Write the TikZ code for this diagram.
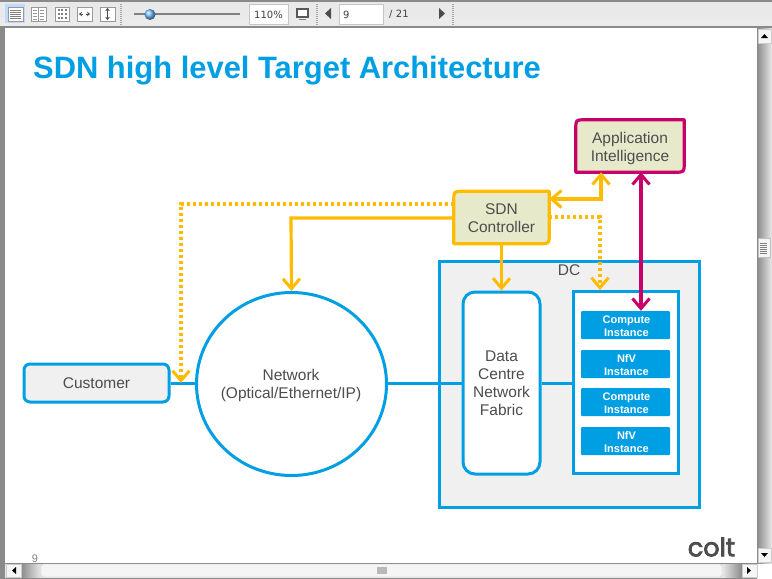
\documentclass[tikz,border=0pt]{standalone}
\usepackage{fontspec}
\setmainfont{Liberation Sans}
\newfontfamily\uifont{DejaVu Sans}
\newfontfamily\logofont[FakeBold=3]{Poppins}
\usetikzlibrary{arrows.meta,backgrounds,calc,shapes.geometric}
\definecolor{coltblue}{HTML}{009FE3}
\definecolor{coltyellow}{HTML}{FFBB00}
\definecolor{coltmag}{HTML}{C8006A}
\definecolor{coltgreen}{HTML}{E6EACB}
\definecolor{coltgrey}{HTML}{F0F0F0}
\definecolor{txt}{HTML}{4D4D4D}
\definecolor{chrome}{HTML}{E9E9E9}
\definecolor{chromedark}{HTML}{8A8A8A}
\newcommand{\cutbox}[2]{%
  \begin{scope}[on background layer]
  \draw[#2,fill=coltgreen,line join=round]
    ($(#1.north west)+(9,0)$) -- (#1.north east) -- ($(#1.south east)+(0,-9)$)
    .. controls (#1.south east) .. ($(#1.south east)+(-9,0)$)
    -- (#1.south west) -- ($(#1.north west)+(0,9)$)
    .. controls (#1.north west) .. cycle;
  \end{scope}}
\tikzset{
  x=1pt,y=-1pt,
  lbl/.style={font=\fontsize{15.5}{18}\selectfont,text=txt,align=center,inner sep=0pt},
  bluebox/.style={draw=coltblue,line width=3pt},
  bluelink/.style={draw=coltblue,line width=3pt},
  inst/.style={fill=coltblue,rounded corners=1pt,inner sep=0pt,minimum width=89pt,minimum height=28pt},
  instlbl/.style={align=center,inner sep=0pt,text=white,font=\fontsize{11}{12.5}\selectfont\bfseries},
  barb/.tip={Straight Barb[length=10pt,width=17pt,line width=3pt]},
  ylink/.style={draw=coltyellow,line width=3.2pt},
  ydot/.style={draw=coltyellow,line width=3.2pt,dash pattern=on 3pt off 3pt},
  mlink/.style={draw=coltmag,line width=3.2pt},
  icon/.style={draw=gray!80,fill=white,line width=.9pt},
  sep/.style={draw=gray!70,line width=1.2pt,dash pattern=on 1pt off 1pt},
  field/.style={draw=gray!45,fill=white,line width=.8pt},
  uitxt/.style={font=\uifont\fontsize{10}{11}\selectfont,text=black!75,inner sep=0pt},
}
\begin{document}
\begin{tikzpicture}
\useasboundingbox (0,0) rectangle (772,579);
% ---- page
\begin{scope}[on background layer]
\fill[white] (0,0) rectangle (772,579);
\end{scope}
% ---- title and footer
\node[anchor=west,inner sep=0pt,text=coltblue,font=\fontsize{30.9}{36}\selectfont\bfseries] (title) at (33,71) {SDN high level Target Architecture};
\node[inner sep=0pt,text=gray,font=\fontsize{11}{12}\selectfont] (pageno) at (35,559) {9};
\node[inner sep=0pt,text=txt,font=\logofont\fontsize{25.5}{28}\selectfont] (logo) at (711.5,547) {colt};
% ---- DC
\node[bluebox,fill=coltgrey,inner sep=0pt,minimum width=260pt,minimum height=246pt] (dc) at (569.5,384.5) {};
\node[lbl] (dclabel) at (569,270) {DC};
% ---- customer, network
\node[bluebox,fill=coltgrey,rounded corners=6pt,inner sep=0pt,minimum width=145pt,minimum height=38pt,lbl] (customer) at (96.5,383) {Customer};
\node[bluebox,fill=white,ellipse,inner sep=0pt,minimum width=190pt,minimum height=183pt] (network) at (291.5,384) {};
\node[lbl] (netlabel) at (291,385) {Network\\(Optical/Ethernet/IP)};
% ---- fabric, instances
\node[bluebox,fill=white,rounded corners=12pt,inner sep=0pt,minimum width=77pt,minimum height=182pt,lbl] (fabric) at (501.5,383) {Data\\Centre\\Network\\Fabric};
\node[bluebox,fill=white,inner sep=0pt,minimum width=105pt,minimum height=182pt] (hosts) at (626,382.5) {};
\node[inst] (i1) at (625.5,325) {};
\node[inst] (i2) at (625.5,364) {};
\node[inst] (i3) at (625.5,402) {};
\node[inst] (i4) at (625.5,441) {};
\node[instlbl] (t1) at (626.5,326) {Compute\\Instance};
\node[instlbl] (t2) at (626.5,365) {NfV\\Instance};
\node[instlbl] (t3) at (626.5,403) {Compute\\Instance};
\node[instlbl] (t4) at (626.5,442) {NfV\\Instance};
% ---- controller boxes
\node[inner sep=0pt,minimum width=95pt,minimum height=52pt] (sdn) at (501.5,217.5) {};
\node[lbl] (sdnlabel) at (501.5,218.5) {SDN\\Controller};
\node[inner sep=0pt,minimum width=108pt,minimum height=52pt] (app) at (630,146) {};
\node[lbl] (applabel) at (630,148) {Application\\Intelligence};
\cutbox{sdn}{ylink}
\cutbox{app}{mlink}
% ---- blue links
\draw[bluelink] (customer.east) -- (network.west |- customer.east);
\draw[bluelink] (network.east |- fabric.west) -- (fabric.west);
\draw[bluelink] (fabric.east) -- (hosts.west |- fabric.east);
% ---- control links
\coordinate (bendA) at (601,199);
\coordinate (bendB) at (600,217);
\coordinate (bendC) at (181,204);
\coordinate (bendD) at (291,218);
\coordinate (custdrop) at (181,383);
\draw[ylink,{barb}-{barb}] (sdn.east |- bendA) -- (bendA) -- (bendA |- app.south);
\draw[ydot,-{barb}] (sdn.east |- bendB) -- (bendB) -- (bendB |- hosts.north);
\draw[ydot,-{barb}] (sdn.west |- bendC) -- (bendC) -- (custdrop);
\draw[ylink,-{barb}] (sdn.west |- bendD) -- (bendD) -- (network.north);
\draw[ylink,-{barb}] (sdn.south) -- (sdn.south |- fabric.north);
\coordinate (magx) at (641,240);
\draw[mlink,{barb}-{barb}] (magx |- app.south) -- (magx |- i1.north);
% ---- viewer chrome
\fill[chrome] (0,0) rectangle (772,27);
\fill[chromedark] (0,0) rectangle (772,2);
\fill[white!92!black] (0,17) rectangle (772,26);
\fill[chromedark] (0,26) rectangle (772,28);
\fill[chromedark] (0,28) rectangle (5,563);
\shade[left color=chromedark,right color=chrome,shading angle=90] (757,28) rectangle (772,563);
% page-layout icons
\fill[blue!60!cyan!25] (5,4) rectangle (25,23);
\draw[icon] (8,7) rectangle (23,21);
\foreach \yy in {10,12,14,16,18} \draw[gray,line width=.8pt] (10,\yy) -- (21,\yy);
\draw[icon] (31,7) rectangle (46,21);
\draw[gray!80,line width=.8pt] (38.5,7) -- (38.5,21);
\foreach \yy in {10,13,16,19} {\draw[gray!80,line width=.8pt] (33,\yy) -- (37,\yy); \draw[gray!80,line width=.8pt] (40,\yy) -- (44,\yy);}
\draw[icon] (55,7) rectangle (69,21);
\foreach \xx in {57.5,61,64.5} \foreach \yy in {9,13,17} \fill[gray] (\xx,\yy) rectangle +(2.4,2.4);
\draw[icon] (77,7) rectangle (92,21);
\draw[black!70,line width=1pt,{Stealth[length=3pt,width=4.5pt]}-] (79,14) -- (83,14);
\draw[black!70,line width=1pt,-{Stealth[length=3pt,width=4.5pt]}] (86,14) -- (90,14);
\draw[icon] (100,7) rectangle (115,21);
\draw[black!70,line width=1pt,{Stealth[length=3pt,width=4.5pt]}-{Stealth[length=3pt,width=4.5pt]}] (107.5,8) -- (107.5,20);
\draw[sep] (121,4) -- (121,25);
\draw[sep] (317,4) -- (317,25);
\draw[sep] (453,4) -- (453,25);
% slider
\draw[gray,line width=1.6pt] (134,14) -- (240,14);
\shade[ball color=blue!45!cyan!55] (150,14.5) circle (5.5pt);
% zoom field
\node[field,minimum width=39pt,minimum height=20pt,inner sep=0pt,uitxt] (zoomfield) at (268.5,14.5) {110\%};
% monitor icon
\draw[black!65,fill=white,line width=1.5pt] (297,9) rectangle (308,17);
\draw[black!50,line width=1.2pt] (299,19.5) -- (306,19.5);
% page navigation
\fill[black!70] (331,8) -- (331,19) -- (325,13.5) -- cycle;
\node[field,minimum width=44pt,minimum height=20pt,inner sep=0pt] (pagefield) at (361,14.5) {};
\node[uitxt,anchor=west] (pagenum) at (343,14.5) {9};
\node[uitxt,anchor=west] (pagetotal) at (389,14.5) {/\,\,21};
\fill[black!70] (439,8) -- (439,19) -- (445,13.5) -- cycle;
% vertical scrollbar
\fill[white!96!black,draw=gray!40] (758,29) rectangle (771,43);
\fill[black] (761,38) -- (768,38) -- (764.5,34) -- cycle;
\fill[white!96!black,draw=gray!50] (758,238) rectangle (770,257);
\foreach \yy in {243,245,247,249,251,253} \draw[gray,line width=.7pt] (760,\yy) -- (767,\yy);
\fill[white!96!black,draw=gray!40] (758,548) rectangle (771,562);
\fill[black] (761,553) -- (768,553) -- (764.5,557) -- cycle;
% horizontal scrollbar
\fill[chrome] (5,563) rectangle (757,578);
\fill[chromedark] (0,563) rectangle (5,579);
\draw[chromedark,line width=1pt] (5,563) -- (757,563);
\shade[left color=chromedark,right color=chrome] (21,564) rectangle (41,577);
\shade[left color=chrome,right color=chromedark] (722,564) rectangle (742,577);
\fill[white!96!black,draw=gray!50,rounded corners=2pt] (41,564) rectangle (722,577);
\fill[gray!55] (377,567) rectangle (387,574);
\fill[white!96!black,draw=gray!40] (6,564) rectangle (21,577);
\fill[black] (16,567) -- (16,574) -- (12,570.5) -- cycle;
\fill[white!96!black,draw=gray!40] (742,564) rectangle (757,577);
\fill[black] (747,567) -- (747,574) -- (751,570.5) -- cycle;
\fill[chromedark] (0,577.5) rectangle (757,579);
\end{tikzpicture}
\end{document}
